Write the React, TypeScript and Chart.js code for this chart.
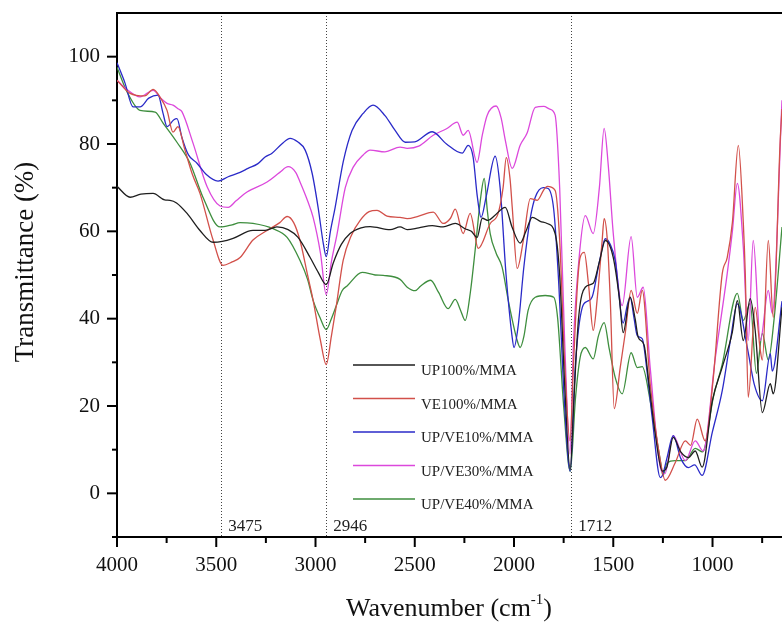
import React, { useEffect, useRef } from 'react';
import { Chart, registerables } from 'chart.js';

Chart.register(...registerables);

const seriesLabels = ['UP100%/MMA', 'VE100%/MMA', 'UP/VE10%/MMA', 'UP/VE30%/MMA', 'UP/VE40%/MMA'];
const seriesColors = ['#1e1e1e', '#d2504a', '#2a2ac8', '#dc48dc', '#3e8e3e'];

const upWn = [4000, 3934, 3880, 3818, 3760, 3733, 3700, 3647, 3582, 3516, 3470, 3415, 3315, 3254, 3194, 3138, 3088, 3027, 2985, 2946, 2911, 2870, 2826, 2770, 2725, 2624, 2574, 2538, 2480, 2412, 2357, 2296, 2246, 2215, 2186, 2160, 2130, 2100, 2044, 2010, 1969, 1940, 1908, 1868, 1833, 1793, 1770, 1745, 1717, 1700, 1675, 1641, 1601, 1570, 1540, 1500, 1470, 1450, 1415, 1390, 1374, 1345, 1320, 1289, 1253, 1230, 1198, 1160, 1122, 1087, 1052, 1001, 951, 900, 875, 845, 810, 785, 749, 709, 694, 650];
const upT = [70.3, 67.8, 68.5, 68.7, 67.2, 67.1, 66.5, 64.1, 60.2, 57.5, 57.7, 58.4, 60.2, 60.2, 61.0, 60.4, 58.6, 54.0, 50.5, 47.8, 52.7, 57.0, 59.5, 60.8, 61.1, 60.4, 61.0, 60.4, 60.8, 61.3, 61.0, 61.8, 60.6, 60.0, 58.6, 63.0, 62.5, 63.5, 65.5, 61.0, 57.3, 60.0, 63.2, 62.3, 61.8, 59.5, 50.0, 25.0, 5.5, 20.0, 40.0, 47.2, 48.1, 53.0, 57.9, 54.0, 45.0, 36.8, 44.9, 40.0, 35.7, 34.0, 25.0, 13.7, 5.1, 6.0, 12.8, 9.5, 8.2, 9.7, 6.0, 21.2, 28.9, 37.0, 44.1, 35.0, 44.6, 37.3, 18.5, 25.1, 22.8, 42.6];

const veWn = [4000, 3934, 3860, 3818, 3780, 3748, 3718, 3693, 3660, 3620, 3582, 3516, 3466, 3420, 3380, 3315, 3244, 3180, 3143, 3110, 3078, 3040, 3012, 2975, 2946, 2920, 2895, 2861, 2820, 2775, 2730, 2690, 2640, 2574, 2538, 2480, 2407, 2357, 2320, 2296, 2256, 2221, 2180, 2120, 2080, 2055, 2039, 2020, 2009, 1984, 1953, 1918, 1883, 1850, 1833, 1793, 1770, 1745, 1718, 1700, 1680, 1667, 1646, 1625, 1601, 1580, 1556, 1546, 1530, 1515, 1495, 1465, 1440, 1410, 1379, 1354, 1314, 1263, 1238, 1188, 1137, 1110, 1077, 1037, 996, 951, 926, 900, 870, 845, 835, 820, 785, 760, 749, 719, 694, 659, 650];
const veT = [94.6, 91.6, 91.0, 92.5, 90.5, 87.7, 82.7, 84.0, 79.0, 73.0, 68.7, 58.0, 52.2, 53.0, 54.0, 58.0, 60.2, 62.0, 63.4, 62.0, 57.9, 50.0, 44.2, 35.0, 29.5, 36.0, 43.0, 53.3, 59.0, 62.5, 64.5, 64.8, 63.5, 63.2, 62.9, 63.5, 64.4, 61.8, 63.0, 65.1, 59.5, 64.1, 56.1, 61.8, 64.1, 70.0, 76.9, 72.0, 65.5, 51.5, 57.9, 67.5, 67.1, 69.5, 70.3, 69.4, 58.0, 30.0, 12.0, 30.0, 48.0, 54.0, 55.2, 48.0, 37.3, 45.0, 57.9, 62.9, 58.0, 44.2, 19.4, 28.8, 36.6, 46.5, 41.2, 46.5, 25.1, 7.5, 3.0, 7.0, 12.0, 11.0, 17.0, 12.0, 26.5, 50.3, 54.0, 62.0, 79.7, 62.0, 50.3, 22.0, 42.6, 33.0, 30.5, 57.9, 40.3, 80.9, 88.0];

const ve10Wn = [4000, 3960, 3919, 3884, 3840, 3793, 3768, 3748, 3715, 3698, 3673, 3640, 3597, 3550, 3491, 3440, 3380, 3340, 3290, 3254, 3219, 3170, 3128, 3090, 3052, 3017, 2987, 2960, 2946, 2925, 2901, 2860, 2816, 2760, 2710, 2650, 2599, 2548, 2500, 2412, 2340, 2261, 2231, 2206, 2185, 2166, 2140, 2095, 2070, 2040, 2010, 2000, 1980, 1950, 1918, 1893, 1853, 1828, 1800, 1777, 1745, 1717, 1690, 1656, 1630, 1606, 1570, 1540, 1515, 1490, 1450, 1430, 1415, 1395, 1379, 1354, 1330, 1304, 1263, 1253, 1230, 1198, 1160, 1122, 1090, 1052, 1001, 951, 910, 875, 825, 790, 749, 709, 699, 650];
const ve10T = [98.6, 94.0, 88.5, 88.5, 90.5, 91.2, 87.0, 84.0, 85.5, 85.8, 81.5, 77.5, 75.6, 73.0, 71.5, 72.5, 73.5, 74.4, 75.5, 77.0, 77.9, 80.0, 81.3, 80.5, 78.6, 73.3, 65.5, 57.0, 54.2, 60.0, 65.5, 76.0, 83.1, 87.0, 88.9, 86.5, 83.1, 80.4, 80.5, 82.8, 80.0, 77.9, 79.7, 77.0, 68.0, 63.2, 68.0, 77.2, 70.0, 50.0, 36.0, 33.4, 38.0, 52.0, 63.0, 67.8, 70.0, 69.8, 65.0, 50.0, 20.0, 5.1, 30.0, 42.6, 44.0, 45.0, 53.0, 58.3, 57.0, 53.3, 39.0, 43.0, 44.9, 40.0, 36.1, 35.4, 28.0, 17.4, 3.6, 4.0, 8.0, 13.2, 8.0, 5.9, 6.5, 4.1, 14.0, 23.5, 35.0, 43.4, 33.4, 25.0, 21.2, 32.0, 28.0, 44.0];

const ve30Wn = [4000, 3950, 3884, 3818, 3780, 3748, 3718, 3690, 3673, 3617, 3546, 3481, 3440, 3400, 3345, 3244, 3180, 3138, 3100, 3078, 3040, 3012, 2975, 2946, 2920, 2891, 2850, 2810, 2760, 2725, 2650, 2574, 2538, 2480, 2407, 2340, 2286, 2256, 2231, 2186, 2160, 2135, 2090, 2065, 2044, 2009, 1969, 1934, 1893, 1850, 1820, 1793, 1770, 1745, 1718, 1700, 1670, 1641, 1601, 1570, 1546, 1525, 1500, 1455, 1410, 1379, 1349, 1314, 1263, 1240, 1198, 1137, 1087, 1047, 986, 926, 900, 875, 845, 820, 795, 759, 719, 699, 650];
const ve30T = [94.6, 92.5, 90.8, 92.3, 90.5, 89.3, 88.9, 88.0, 87.4, 80.2, 70.2, 65.8, 65.5, 67.0, 69.0, 71.3, 73.5, 74.8, 73.5, 71.3, 67.0, 63.2, 55.0, 45.5, 53.0, 59.5, 70.0, 74.7, 77.5, 78.6, 78.2, 79.3, 79.0, 79.5, 82.0, 83.5, 85.0, 82.0, 83.1, 75.8, 82.0, 86.6, 88.7, 86.0, 80.9, 74.4, 79.7, 82.5, 88.4, 88.6, 88.0, 86.6, 70.0, 35.0, 9.0, 35.0, 55.0, 63.6, 59.5, 70.0, 83.6, 75.0, 59.5, 43.0, 58.8, 44.9, 47.2, 28.8, 6.0, 4.5, 13.2, 7.5, 12.0, 9.7, 31.0, 50.3, 60.0, 71.0, 56.4, 35.0, 57.9, 35.0, 46.5, 41.2, 90.0];

const ve40Wn = [4000, 3950, 3884, 3808, 3768, 3698, 3632, 3567, 3481, 3420, 3380, 3315, 3214, 3143, 3078, 3040, 3012, 2975, 2946, 2920, 2895, 2866, 2841, 2765, 2700, 2659, 2574, 2538, 2498, 2470, 2420, 2380, 2332, 2296, 2270, 2246, 2220, 2196, 2170, 2150, 2135, 2120, 2090, 2060, 2029, 1984, 1969, 1950, 1929, 1893, 1843, 1800, 1780, 1750, 1717, 1690, 1667, 1641, 1601, 1575, 1546, 1520, 1490, 1455, 1410, 1379, 1354, 1314, 1263, 1250, 1228, 1188, 1137, 1087, 1050, 996, 951, 875, 845, 810, 779, 749, 719, 689, 650];
const ve40T = [97.6, 92.0, 87.7, 87.3, 84.8, 80.4, 75.6, 67.8, 61.0, 61.5, 62.0, 61.8, 60.6, 58.6, 53.3, 49.0, 44.2, 40.0, 37.5, 40.0, 43.0, 46.4, 47.5, 50.6, 50.0, 49.9, 49.0, 47.2, 46.4, 47.5, 48.8, 46.0, 42.3, 44.4, 42.0, 39.6, 46.0, 55.6, 67.0, 72.1, 65.0, 59.5, 55.0, 51.8, 44.2, 35.0, 33.4, 36.0, 41.9, 44.9, 45.3, 44.9, 40.0, 20.0, 5.0, 22.0, 31.1, 33.4, 30.8, 36.0, 39.1, 33.0, 26.5, 22.8, 32.2, 28.8, 29.0, 21.2, 7.5, 4.1, 7.0, 7.5, 7.5, 10.3, 9.5, 22.0, 29.6, 45.8, 39.6, 43.5, 27.5, 36.6, 30.5, 40.3, 61.0];

const markerWn = [3475, 2946, 1712];
const xTicks = [4000, 3500, 3000, 2500, 2000, 1500, 1000];
const xMinorTicks = [3750, 3250, 2750, 2250, 1750, 1250, 750];
const yTicks = [0, 20, 40, 60, 80, 100];
const yMinorTicks = [-10, 10, 30, 50, 70, 90];

const SERIF = "'Liberation Serif', 'Times New Roman', serif";

const decorPlugin = {
  id: 'decor',
  beforeDatasetsDraw(chart: any) {
    const { ctx, chartArea, scales } = chart;
    ctx.save();
    ctx.strokeStyle = '#444';
    ctx.lineWidth = 1;
    ctx.setLineDash([1, 2]);
    markerWn.forEach((w) => {
      const x = Math.round(scales.x.getPixelForValue(w)) + 0.5;
      ctx.beginPath();
      ctx.moveTo(x, chartArea.top);
      ctx.lineTo(x, chartArea.bottom);
      ctx.stroke();
    });
    ctx.setLineDash([]);
    ctx.fillStyle = '#222';
    ctx.font = `17px ${SERIF}`;
    ctx.textAlign = 'left';
    ctx.textBaseline = 'alphabetic';
    markerWn.forEach((w) => {
      const x = scales.x.getPixelForValue(w);
      ctx.fillText(String(w), x + 7, chartArea.bottom - 6);
    });
    ctx.restore();
  },
  afterDraw(chart: any) {
    const { ctx, chartArea, scales } = chart;
    ctx.save();
    ctx.strokeStyle = '#000';
    ctx.lineWidth = 2;
    ctx.beginPath();
    ctx.moveTo(chartArea.left - 1, chartArea.top);
    ctx.lineTo(chartArea.right, chartArea.top);
    ctx.stroke();
    const drawX = (vals: number[], len: number) => {
      vals.forEach((v) => {
        const x = scales.x.getPixelForValue(v);
        ctx.beginPath();
        ctx.moveTo(x, chartArea.bottom);
        ctx.lineTo(x, chartArea.bottom + len);
        ctx.stroke();
      });
    };
    drawX(xTicks, 10);
    drawX(xMinorTicks, 6);
    const drawY = (vals: number[], len: number) => {
      vals.forEach((v) => {
        const y = scales.y.getPixelForValue(v);
        ctx.beginPath();
        ctx.moveTo(chartArea.left, y);
        ctx.lineTo(chartArea.left - len, y);
        ctx.stroke();
      });
    };
    drawY(yTicks, 10);
    drawY(yMinorTicks, 5);

    // legend
    const lx0 = chartArea.left + 236;
    const lx1 = chartArea.left + 298;
    const tx = chartArea.left + 304;
    const ly0 = chartArea.top + 352;
    const step = 33.5;
    ctx.font = `15px ${SERIF}`;
    ctx.textAlign = 'left';
    ctx.textBaseline = 'alphabetic';
    chart.data.datasets.forEach((ds: any, i: number) => {
      const y = ly0 + i * step;
      ctx.strokeStyle = ds.borderColor;
      ctx.lineWidth = 1.5;
      ctx.beginPath();
      ctx.moveTo(lx0, y);
      ctx.lineTo(lx1, y);
      ctx.stroke();
      ctx.fillStyle = '#222';
      ctx.fillText(ds.label, tx, y + 10);
    });

    // axis titles
    ctx.fillStyle = '#111';
    ctx.font = `26px ${SERIF}`;
    const t1 = 'Wavenumber (cm';
    const sup = '-1';
    const t2 = ')';
    const w1 = ctx.measureText(t1).width;
    const w3 = ctx.measureText(t2).width;
    ctx.font = `15px ${SERIF}`;
    const w2 = ctx.measureText(sup).width;
    const total = w1 + w2 + w3;
    const cx = 449;
    const by = 616;
    let sx = cx - total / 2;
    ctx.font = `26px ${SERIF}`;
    ctx.fillText(t1, sx, by);
    sx += w1;
    ctx.font = `15px ${SERIF}`;
    ctx.fillText(sup, sx, by - 12);
    sx += w2;
    ctx.font = `26px ${SERIF}`;
    ctx.fillText(t2, sx, by);

    ctx.save();
    ctx.translate(33, 262);
    ctx.rotate(-Math.PI / 2);
    ctx.textAlign = 'center';
    ctx.font = `27px ${SERIF}`;
    ctx.fillText('Transmittance (%)', 0, 0);
    ctx.restore();
    ctx.restore();
  },
};

function toPoints(xs: number[], ys: number[]) {
  return xs.map((x, i) => ({ x, y: ys[i] }));
}

const zeroPad = (axis: any) => {
  axis.paddingTop = 0;
  axis.paddingBottom = 0;
  axis.paddingLeft = 0;
  axis.paddingRight = 0;
};

export default function App() {
  const ref = useRef<HTMLCanvasElement | null>(null);
  useEffect(() => {
    if (!ref.current) return;
    const series = [
      [upWn, upT],
      [veWn, veT],
      [ve10Wn, ve10T],
      [ve30Wn, ve30T],
      [ve40Wn, ve40T],
    ];
    const chart = new Chart(ref.current, {
      type: 'line',
      data: {
        datasets: series.map((s, i) => ({
          label: seriesLabels[i],
          data: toPoints(s[0] as number[], s[1] as number[]),
          borderColor: seriesColors[i],
          backgroundColor: seriesColors[i],
          borderWidth: 1.3,
          pointRadius: 0,
          cubicInterpolationMode: 'monotone',
          fill: false,
        })),
      },
      options: {
        responsive: false,
        animation: false,
        devicePixelRatio: 1,
        layout: { padding: { top: 13, right: 0, bottom: 0, left: 0 } },
        plugins: {
          legend: { display: false },
          tooltip: { enabled: false },
        },
        scales: {
          x: {
            type: 'linear',
            reverse: true,
            min: 650,
            max: 4000,
            afterFit: (axis: any) => {
              axis.height = 86;
              zeroPad(axis);
            },
            afterBuildTicks: (axis: any) => {
              axis.ticks = xTicks.map((v) => ({ value: v }));
            },
            grid: { display: false, drawTicks: false },
            border: { display: true, color: '#000', width: 2 },
            ticks: {
              color: '#111',
              font: { family: SERIF, size: 21 },
              padding: 16,
              maxRotation: 0,
              autoSkip: false,
              callback: (v: any) => String(v),
            },
          },
          y: {
            type: 'linear',
            min: -10,
            max: 110,
            afterFit: (axis: any) => {
              axis.width = 117;
              zeroPad(axis);
            },
            afterBuildTicks: (axis: any) => {
              axis.ticks = yTicks.map((v) => ({ value: v }));
            },
            grid: { display: false, drawTicks: false },
            border: { display: true, color: '#000', width: 2 },
            ticks: {
              color: '#111',
              font: { family: SERIF, size: 21 },
              padding: 17,
              autoSkip: false,
              callback: (v: any) => String(v),
            },
          },
        },
      },
      plugins: [decorPlugin],
    } as any);
    return () => chart.destroy();
  }, []);
  return (
    <div style={{ position: 'fixed', left: 0, top: 0, width: 782, height: 623, background: '#fff' }}>
      <canvas ref={ref} width={782} height={623} style={{ display: 'block' }} />
    </div>
  );
}
